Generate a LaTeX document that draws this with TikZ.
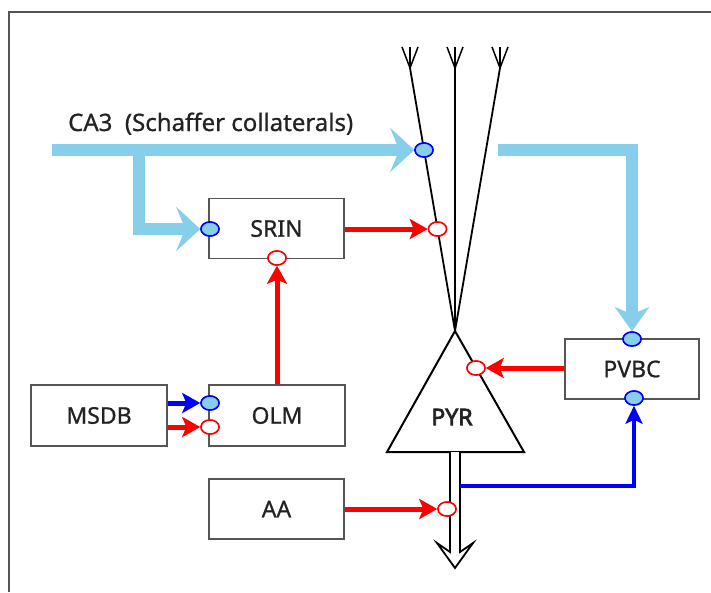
\documentclass[tikz,border=0pt]{standalone}
\usepackage{fontspec}
\setmainfont{Noto Sans}[FakeBold=0.8]
\newfontfamily\pyrfont{Noto Sans}[FakeBold=3]
\usetikzlibrary{arrows.meta,shapes.geometric}
\definecolor{sky}{HTML}{87CEEB}
\definecolor{frm}{HTML}{555555}
\definecolor{txt}{HTML}{222222}
\begin{document}
\begin{tikzpicture}[x=1pt,y=-1pt,
  box/.style={draw=frm,line width=1.3pt,fill=white,minimum width=135pt,minimum height=60pt,inner sep=0pt,font=\fontsize{23}{27}\selectfont,text=txt},
  exc/.style={ellipse,draw=blue,line width=1.5pt,fill=sky,minimum width=18pt,minimum height=14pt,inner sep=0pt},
  inh/.style={ellipse,draw=red,line width=1.5pt,fill=white,minimum width=18pt,minimum height=14pt,inner sep=0pt},
  redar/.style={draw=red,line width=5pt,-{Stealth[length=18pt,width=20pt,inset=4pt]}},
  bluear/.style={draw=blue,line width=5pt,-{Stealth[length=18pt,width=20pt,inset=4pt]}},
  bluethin/.style={draw=blue,line width=4pt,line join=miter,-{Stealth[length=18pt,width=17pt,inset=4pt]}},
  skyar/.style={draw=sky,line width=12pt,line join=miter,-{Stealth[length=24pt,width=44pt,inset=9pt]}},
  skyar2/.style={draw=sky,line width=12pt,line join=miter,-{Stealth[length=24pt,width=34pt,inset=7pt]}},
  dend/.style={draw=black,line width=1.8pt},
  lbl/.style={font=\fontsize{23}{27}\selectfont,text=txt,inner sep=0pt}
]
\useasboundingbox (0,0) rectangle (711,592);
% frame
\draw[frm,line width=2pt] (9,592) -- (9,12) -- (711,12);

% boxes
\node[box] (srin) at (276.5,228.5) {SRIN};
\node[box,minimum width=136pt,minimum height=61pt] (olm) at (277,415.5) {OLM};
\node[box,minimum width=136pt,minimum height=61pt] (msdb) at (99,415.5) {MSDB};
\node[box] (aa) at (276.5,509) {AA};
\node[box,minimum width=134pt] (pvbc) at (632,369) {PVBC};

% CA3 label
\node[lbl,font=\fontsize{24}{28}\selectfont,anchor=base west] (ca3) at (68,131) {CA3\ \ (Schaffer collaterals)};

% dendrites
\coordinate (apex) at (455,331);
\coordinate (dl) at (410,68);
\coordinate (dm) at (455,68);
\coordinate (dr) at (500,68);
\draw[dend] (apex) -- (dl);
\draw[dend] (apex) -- (dm);
\draw[dend] (apex) -- (dr);
\foreach \c in {dl,dm,dr}{
  \draw[dend,line width=1.5pt] (\c) -- ++(-8,-21);
  \draw[dend,line width=1.5pt] (\c) -- ++(0,-21);
  \draw[dend,line width=1.5pt] (\c) -- ++(8,-21);
}

% PYR
\draw[black,line width=2pt,fill=white,line join=miter] (apex) -- (524,452) -- (387,452) -- cycle;
\node[lbl,font=\fontsize{23}{27}\pyrfont] (pyr) at (452,417) {PYR};

% axon
\draw[black,line width=1.8pt,fill=white,line join=miter] (450,452) -- (450,552) -- (437,543) -- (455,568) -- (473,543) -- (460,552) -- (460,452);
\coordinate (ax) at (460,486);

% synapses
\node[exc] (ca3syn) at (424,150) {};
\node[exc] (srinIn) at (210,229) {};
\node[inh] (sr2pyr) at (437.5,229) {};
\node[inh] (srinBot) at (277,258) {};
\node[exc] (olmB) at (210,403) {};
\node[inh] (olmR) at (210,427) {};
\node[inh] (pyrIn) at (476,368) {};
\node[exc] (pvT) at (632,339) {};
\node[exc] (pvB) at (634,398) {};
\node[inh] (aaSyn) at (447,509) {};

% CA3 input (Schaffer collaterals)
\coordinate (ca3a) at (52,150);
\coordinate (ca3b) at (139,150);
\coordinate (ca3c) at (498,150);
\draw[skyar] (ca3a) -- (ca3syn.west);
\draw[skyar] (ca3b) |- (srinIn.west);
\draw[skyar2] (ca3c) -| (pvT.north);

% connections
\draw[redar] (sr2pyr -| srin.east) -- (sr2pyr.west);
\draw[redar] (olm.north -| srinBot) -- (srinBot.south);
\draw[bluear] (olmB -| msdb.east) -- (olmB.west);
\draw[redar] (olmR -| msdb.east) -- (olmR.west);
\draw[redar] (pyrIn -| pvbc.west) -- (pyrIn.east);
\draw[redar] (aaSyn -| aa.east) -- (aaSyn.west);
\draw[bluethin] (ax) -| (pvB.south);

% redraw synapses on top
\foreach \s in {ca3syn,srinIn,olmB,pvT,pvB}{\node[exc] at (\s) {};}
\foreach \s in {sr2pyr,srinBot,olmR,pyrIn,aaSyn}{\node[inh] at (\s) {};}
\end{tikzpicture}
\end{document}
